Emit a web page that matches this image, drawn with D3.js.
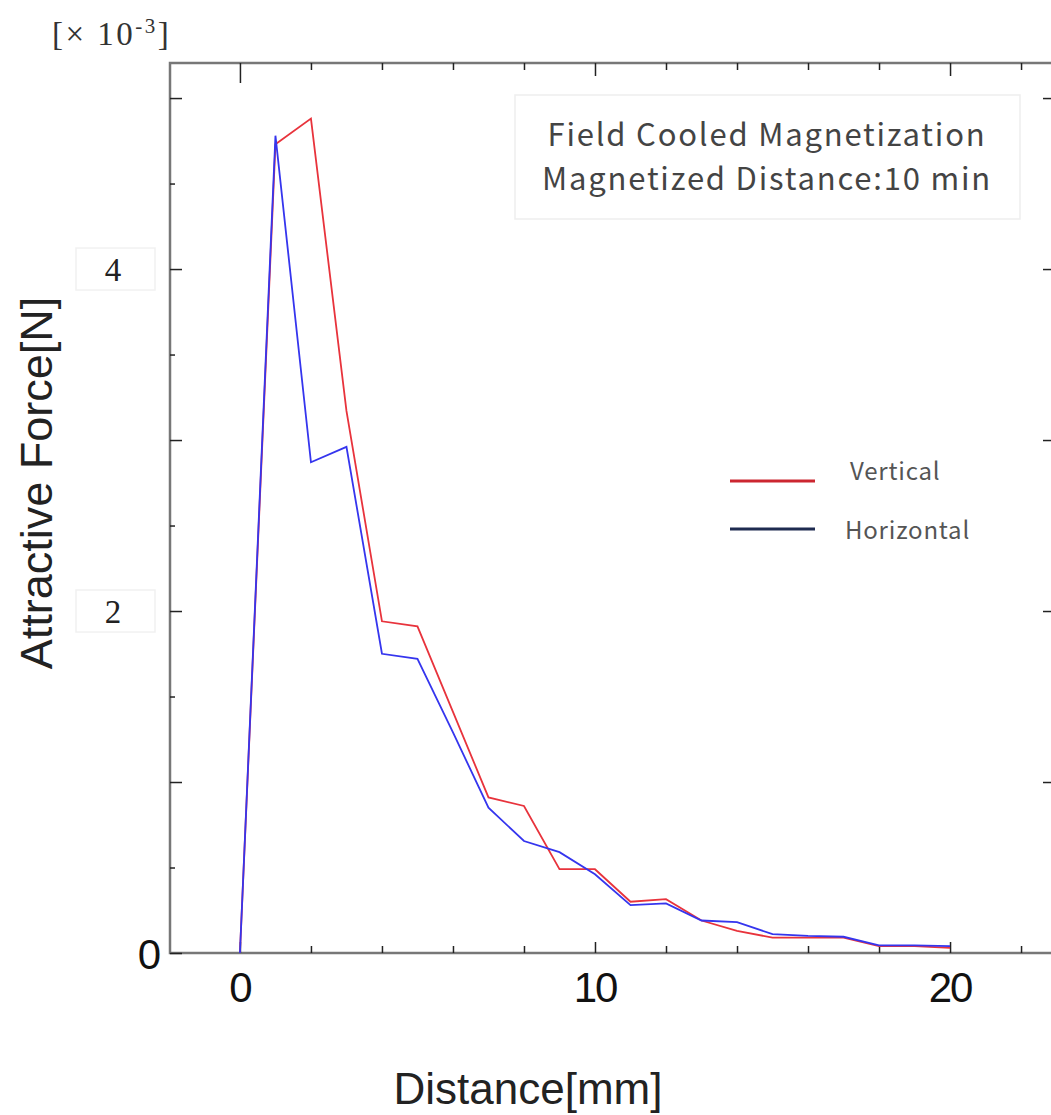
<!DOCTYPE html>
<html>
<head>
<meta charset="utf-8">
<script src="https://cdn.jsdelivr.net/npm/d3@7"></script>
<style>
  body { margin: 0; background: #fff; }
  svg { display: block; }
</style>
</head>
<body>
<div id="chart"></div>
<script>
const distance = [0,1,2,3,4,5,6,7,8,9,10,11,12,13,14,15,16,17,18,19,20];
const vertical = [0,4.73,4.88,3.17,1.94,1.91,1.41,0.91,0.86,0.49,0.49,0.30,0.315,0.19,0.13,0.09,0.09,0.09,0.04,0.04,0.03];
const horizontal = [0,4.78,2.87,2.96,1.75,1.72,1.29,0.85,0.655,0.59,0.46,0.28,0.29,0.19,0.18,0.11,0.10,0.095,0.045,0.045,0.04];
const xTickLabels = [0, 10, 20];
const yTickLabels = [4, 2];
const seriesNames = ['Vertical', 'Horizontal'];
const titleLines = ['Field Cooled Magnetization', 'Magnetized  Distance:10 min'];

const width = 1051, height = 1115;
const margin = { top: 63, left: 170, right: -2, bottom: 162 };
const plotRight = width - margin.right;
const plotBottom = height - margin.bottom;

const svg = d3.select('#chart').append('svg')
  .attr('width', width).attr('height', height);

const x = d3.scaleLinear().domain([-1.97, 22.9]).range([margin.left, plotRight]);
const y = d3.scaleLinear().domain([0, 5.205]).range([plotBottom, margin.top]);

// frame
svg.append('rect')
  .attr('x', margin.left).attr('y', margin.top)
  .attr('width', plotRight - margin.left).attr('height', plotBottom - margin.top)
  .attr('fill', 'none').attr('stroke', '#777').attr('stroke-width', 2.5);

function ticks(g) {
  g.select('.domain').remove();
  g.selectAll('text').remove();
  g.selectAll('line').attr('stroke', '#222').attr('stroke-width', 1.5);
}

const xMajor = [0, 10, 20];
const xMinor = d3.range(2, 23, 2).filter(v => v % 10 !== 0);
const yMajor = d3.range(0, 6, 1);
const yMinor = d3.range(0.5, 5, 1);

// bottom (inward) ticks
svg.append('g').attr('transform', `translate(0,${plotBottom})`)
  .call(d3.axisTop(x).tickValues(xMajor).tickSize(11)).call(ticks);
svg.append('g').attr('transform', `translate(0,${plotBottom})`)
  .call(d3.axisTop(x).tickValues(xMinor).tickSize(7)).call(ticks);
// top (inward) ticks
svg.append('g').attr('transform', `translate(0,${margin.top})`)
  .call(d3.axisBottom(x).tickValues([0]).tickSize(20)).call(ticks);
svg.append('g').attr('transform', `translate(0,${margin.top})`)
  .call(d3.axisBottom(x).tickValues([10, 20]).tickSize(13)).call(ticks);
svg.append('g').attr('transform', `translate(0,${margin.top})`)
  .call(d3.axisBottom(x).tickValues(xMinor).tickSize(7)).call(ticks);
// left (inward) ticks
svg.append('g').attr('transform', `translate(${margin.left},0)`)
  .call(d3.axisRight(y).tickValues(yMajor).tickSize(12)).call(ticks);
svg.append('g').attr('transform', `translate(${margin.left},0)`)
  .call(d3.axisRight(y).tickValues(yMinor).tickSize(5)).call(ticks);
// right (inward) ticks
svg.append('g').attr('transform', `translate(${plotRight - 2},0)`)
  .call(d3.axisLeft(y).tickValues(yMajor.filter(v => v > 0)).tickSize(8)).call(ticks);

// tick labels
svg.append('g').selectAll('text').data(xTickLabels).join('text')
  .attr('x', d => x(d)).attr('y', plotBottom + 49)
  .attr('text-anchor', 'middle')
  .attr('font-family', 'Liberation Sans, Arial, sans-serif')
  .attr('font-size', 42).attr('fill', '#111')
  .attr('letter-spacing', -2)
  .text(d => d);

const yl = svg.append('g').selectAll('g').data(yTickLabels).join('g');
yl.append('rect')
  .attr('x', 76).attr('y', d => y(d) - 21).attr('width', 79).attr('height', 42)
  .attr('fill', 'none').attr('stroke', '#f1f1f1').attr('stroke-width', 1.5);
yl.append('text')
  .attr('x', 113).attr('y', d => y(d) + 12)
  .attr('text-anchor', 'middle')
  .attr('font-family', 'Liberation Serif, serif')
  .attr('font-size', 33).attr('fill', '#222')
  .text(d => d);

svg.append('text')
  .attr('x', 161).attr('y', y(0) + 16)
  .attr('text-anchor', 'end')
  .attr('font-family', 'Liberation Sans, Arial, sans-serif')
  .attr('font-size', 42).attr('fill', '#111')
  .text('0');

// multiplier
const mult = svg.append('text')
  .attr('x', 52).attr('y', 45)
  .attr('font-family', 'Liberation Serif, serif')
  .attr('font-size', 33).attr('fill', '#333')
  .attr('letter-spacing', 2.5);
mult.append('tspan').text('[× 10');
mult.append('tspan').attr('dy', -12).attr('font-size', 21).text('-3');
mult.append('tspan').attr('dy', 12).text(']');

// axis titles
svg.append('text')
  .attr('transform', `translate(52,${(margin.top + plotBottom) / 2 - 25}) rotate(-90)`)
  .attr('text-anchor', 'middle')
  .attr('font-family', 'Liberation Sans, Arial, sans-serif')
  .attr('font-size', 45).attr('fill', '#222')
  .text('Attractive Force[N]');

svg.append('text')
  .attr('x', 528).attr('y', 1104)
  .attr('text-anchor', 'middle')
  .attr('font-family', 'Liberation Sans, Arial, sans-serif')
  .attr('font-size', 44).attr('fill', '#222')
  .text('Distance[mm]');

// lines
const line = vals => d3.line()
  .x((d, i) => x(distance[i]))
  .y(d => y(d))(vals);

svg.append('path').attr('d', line(vertical))
  .attr('fill', 'none').attr('stroke', '#e8333c').attr('stroke-width', 1.8);
svg.append('path').attr('d', line(horizontal))
  .attr('fill', 'none').attr('stroke', '#3535ee').attr('stroke-width', 1.8);

// title box
svg.append('rect')
  .attr('x', 515).attr('y', 95).attr('width', 505).attr('height', 124)
  .attr('fill', '#fff').attr('stroke', '#eee').attr('stroke-width', 1.5);
svg.append('g').selectAll('text').data(titleLines).join('text')
  .attr('x', 767).attr('y', (d, i) => 146 + i * 44)
  .attr('text-anchor', 'middle')
  .attr('font-family', 'Noto Sans CJK JP, Noto Sans, sans-serif')
  .attr('font-size', 31).attr('fill', '#444')
  .attr('letter-spacing', 1.8)
  .text(d => d);

// legend
const legendColors = ['#cc2630', '#1e2b50'];
const legendY = [481, 529];
const legendTextX = [850, 845];
const lg = svg.append('g').selectAll('g').data(seriesNames).join('g');
lg.append('line')
  .attr('x1', 730).attr('x2', 815)
  .attr('y1', (d, i) => legendY[i]).attr('y2', (d, i) => legendY[i])
  .attr('stroke', (d, i) => legendColors[i]).attr('stroke-width', 3);
lg.append('text')
  .attr('x', (d, i) => legendTextX[i]).attr('y', (d, i) => legendY[i] - (i === 0 ? 1 : -10))
  .attr('font-family', 'Noto Sans CJK JP, Noto Sans, sans-serif')
  .attr('font-size', 24).attr('fill', '#555')
  .attr('letter-spacing', 0.8)
  .text(d => d);
</script>
</body>
</html>
